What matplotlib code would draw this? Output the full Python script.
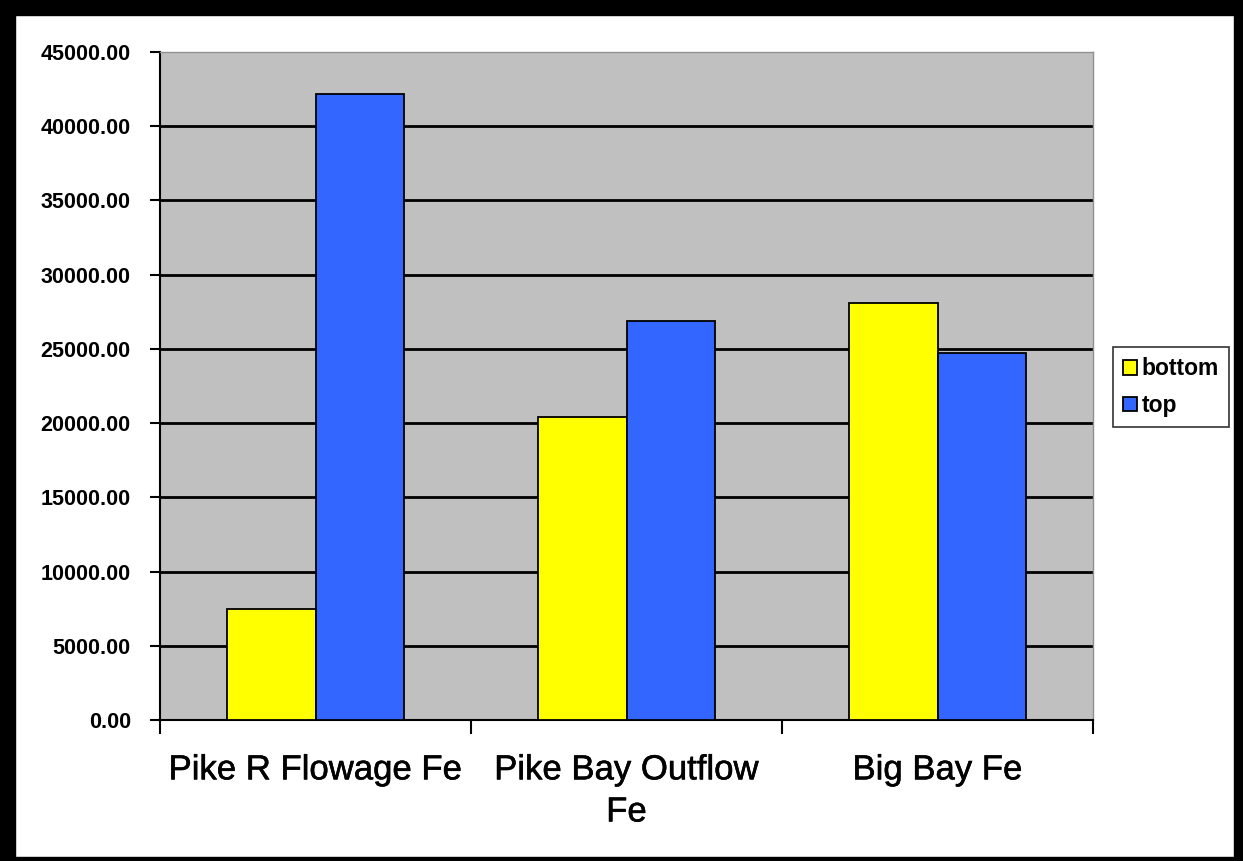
import matplotlib.pyplot as plt
from matplotlib.patches import Rectangle
from matplotlib.ticker import FixedLocator
import matplotlib.patheffects as pe
import numpy as np

sites = ['Pike R Flowage Fe', 'Pike Bay Outflow\nFe', 'Big Bay Fe']
bottom = [7500, 20400, 28100]
top = [42150, 26900, 24750]
yticks = [0, 5000, 10000, 15000, 20000, 25000, 30000, 35000, 40000, 45000]

plt.rcParams['font.family'] = ['Liberation Sans', 'DejaVu Sans']

fig = plt.figure(figsize=(12.43, 8.61), dpi=100)
ax = fig.add_axes([160/1243, 1 - 720/861, 933/1243, 668/861])
ax.set_facecolor('#C0C0C0')

x = np.arange(len(sites))
w = 1 / 3.5
ax.bar(x - w/2, bottom, w, color='#FFFF00', edgecolor='black', linewidth=1.3,
       label='bottom', zorder=3)
ax.bar(x + w/2, top, w, color='#3366FF', edgecolor='black', linewidth=1.3,
       label='top', zorder=3)

ax.set_xlim(-0.5, len(sites) - 0.5)
ax.set_ylim(0, 45000)
ax.set_yticks(yticks)
ax.set_yticklabels(['%.2f' % v for v in yticks], fontsize=15.5, fontweight='bold')
for v in yticks[1:-1]:
    ax.axhline(v, color='black', linewidth=2, zorder=1)

ax.set_xticks(x)
ax.set_xticklabels(sites, fontsize=25, linespacing=1.35)
for t in ax.get_xticklabels():
    t.set_path_effects([pe.withStroke(linewidth=0.4, foreground='black')])
ax.xaxis.set_minor_locator(FixedLocator(np.arange(len(sites) + 1) - 0.5))
ax.tick_params(axis='x', which='major', length=0, pad=24)
ax.tick_params(axis='x', which='minor', length=10, width=1.5, color='black')
ax.tick_params(axis='y', length=7, width=1.5, pad=14)

for side in ('top', 'right'):
    ax.spines[side].set_color('#909090')
    ax.spines[side].set_linewidth(1)
for side in ('left', 'bottom'):
    ax.spines[side].set_color('black')
    ax.spines[side].set_linewidth(1.5)

leg = fig.legend(loc='upper left', bbox_to_anchor=(1113/1243, 1 - 347/861),
                 frameon=True, fancybox=False, edgecolor='black',
                 prop={'size': 16.5, 'weight': 'bold'}, handlelength=0.6,
                 handleheight=0.6, handletextpad=0.2, borderpad=0.45,
                 labelspacing=0.6, borderaxespad=0)
leg.get_frame().set_linewidth(1.2)

# thick black frame round the whole chart
for (x0, y0, bw, bh) in [(0, 0, 15, 861), (0, 0, 1243, 15),
                         (1234, 0, 9, 861), (0, 857, 1243, 4)]:
    fig.patches.append(Rectangle((x0/1243, 1 - (y0 + bh)/861), bw/1243, bh/861,
                                 transform=fig.transFigure, color='black',
                                 zorder=10))

fig.savefig('out.png', dpi=100)
